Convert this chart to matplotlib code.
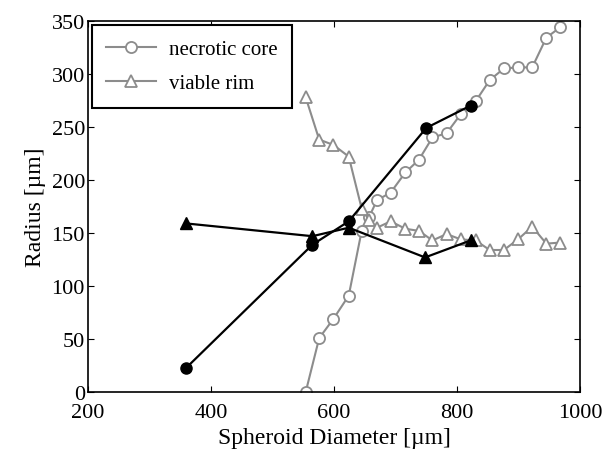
import matplotlib.pyplot as plt

plt.rcParams['font.family'] = ['Liberation Serif', 'DejaVu Serif']

# model (gray, open markers)
diam = [554, 576, 599, 624, 645, 657, 670, 692, 716, 738,
        760, 783, 806, 830, 853, 876, 899, 922, 945, 968]
core = [0, 51, 69, 91, 152, 165, 181, 188, 207, 219,
        240, 244, 262, 274, 294, 305, 306, 306, 334, 344]
rim = [278, 238, 233, 222, 173, 162, 155, 161, 154, 152,
       143, 149, 144, 143, 134, 134, 144, 156, 140, 141]

# experiment (black, filled markers)
exp_core_d = [360, 565, 624, 750, 822]
exp_core = [23, 139, 161, 249, 270]
exp_rim_d = [360, 565, 624, 748, 822]
exp_rim = [159, 147, 155, 127, 143]

gray = '#8c8c8c'

fig = plt.figure(figsize=(6.05, 4.52), dpi=100)
ax = fig.add_axes([0.145, 0.130, 0.814, 0.822])

ax.plot(diam, core, '-o', color=gray, mfc='white', mec=gray, ms=8, mew=1.3,
        lw=1.5, label='necrotic core')
ax.plot(diam, rim, '-^', color=gray, mfc='white', mec=gray, ms=9, mew=1.3,
        lw=1.5, label='viable rim')
ax.plot(exp_core_d, exp_core, '-o', color='black', ms=8, lw=1.6)
ax.plot(exp_rim_d, exp_rim, '-^', color='black', ms=9, lw=1.6)

ax.set_xlim(200, 1000)
ax.set_ylim(0, 350)
ax.set_xticks([200, 400, 600, 800, 1000])
ax.set_yticks(range(0, 351, 50))
ax.tick_params(direction='in', top=True, right=True, labelsize=16, length=4)
ax.tick_params(axis='x', pad=8)
ax.tick_params(axis='y', pad=2)
for s in ax.spines.values():
    s.set_linewidth(1.2)

ax.set_xlabel('Spheroid Diameter [µm]', fontsize=17, labelpad=3)
ax.set_ylabel('Radius [µm]', fontsize=17, labelpad=4)

leg = ax.legend(loc='upper left', fontsize=15, fancybox=False, framealpha=1,
                edgecolor='black', borderaxespad=0.2, handlelength=2.4,
                borderpad=0.7, labelspacing=0.7, handletextpad=0.6)
leg.get_frame().set_linewidth(1.5)

fig.savefig('out.png', dpi=100)
